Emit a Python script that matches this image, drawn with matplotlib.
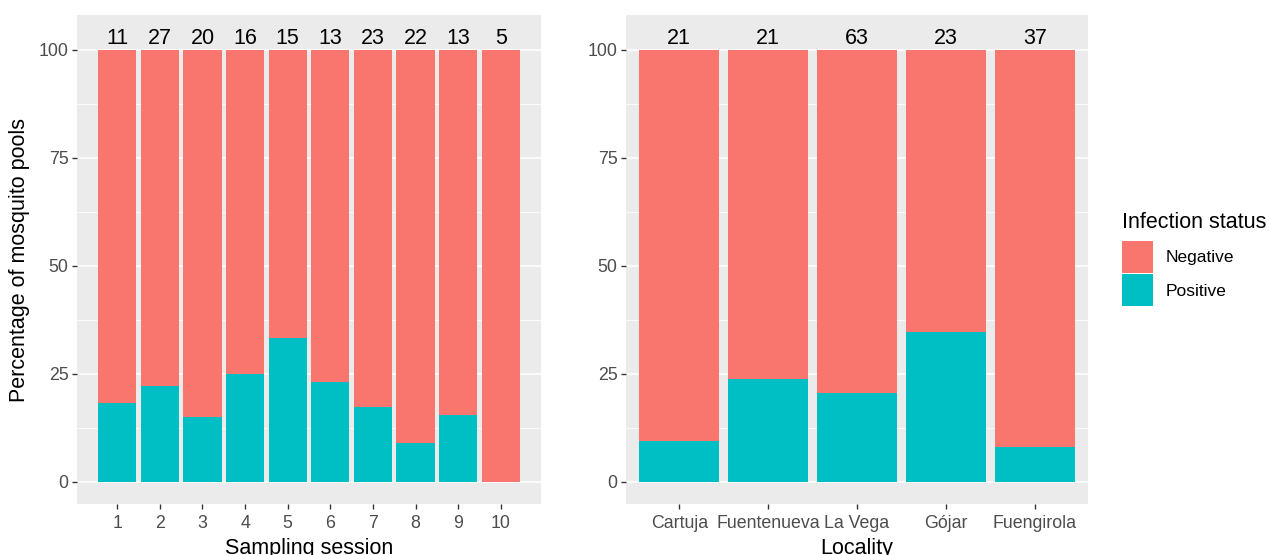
import matplotlib
matplotlib.use("Agg")
import matplotlib.pyplot as plt
from matplotlib.patches import Patch
import numpy as np

plt.rcParams['font.family'] = ['Liberation Sans', 'DejaVu Sans']

# Data
sessions = [1, 2, 3, 4, 5, 6, 7, 8, 9, 10]
session_positive = [18.2, 22.2, 15.0, 25.0, 33.3, 23.1, 17.4, 9.1, 15.4, 0.0]
session_n = [11, 27, 20, 16, 15, 13, 23, 22, 13, 5]

localities = ["Cartuja", "Fuentenueva", "La Vega", "Gójar", "Fuengirola"]
locality_positive = [9.5, 23.8, 20.6, 34.8, 8.1]
locality_n = [21, 21, 63, 23, 37]

status_labels = ["Negative", "Positive"]
col_neg = "#F8766D"
col_pos = "#00BFC4"

W, H = 1269, 555
fig = plt.figure(figsize=(W / 100, H / 100), dpi=100)

def px_axes(x0, y0, x1, y1):
    return fig.add_axes([x0 / W, 1 - y1 / H, (x1 - x0) / W, (y1 - y0) / H])

def style(ax):
    ax.set_facecolor("#EBEBEB")
    for s in ax.spines.values():
        s.set_visible(False)
    ax.set_ylim(-5.1, 108.1)
    ax.set_yticks([0, 25, 50, 75, 100])
    ax.set_yticks([12.5, 37.5, 62.5, 87.5], minor=True)
    ax.grid(axis='y', which='major', color='white', lw=1.1, zorder=0)
    ax.grid(axis='y', which='minor', color='white', lw=0.55, zorder=0)
    ax.set_axisbelow(True)
    ax.tick_params(axis='both', which='major', length=3.5, width=1.0, color='#333333',
                   labelcolor='#4D4D4D', labelsize=12.8, pad=2.5)
    ax.tick_params(axis='x', which='major', pad=4.5)
    ax.tick_params(axis='both', which='minor', length=0)
    ax.tick_params(axis='x', which='minor', bottom=False)

# Left panel
ax1 = px_axes(77, 15, 541, 504)
style(ax1)
pos = np.array(session_positive)
ax1.bar(sessions, pos, width=0.9, color=col_pos, zorder=2)
ax1.bar(sessions, 100 - pos, bottom=pos, width=0.9, color=col_neg, zorder=2)
for x, n in zip(sessions, session_n):
    ax1.annotate(str(n), (x, 100), xytext=(0, 1.0), textcoords='offset points',
                 ha='center', va='bottom', fontsize=15.5, color='black')
ax1.set_xlim(0.055, 10.945)
ax1.set_xticks(sessions)
ax1.set_xticklabels([str(s) for s in sessions])
ax1.set_xlabel("Sampling session", fontsize=15.5, labelpad=4)
ax1.set_ylabel("Percentage of mosquito pools", fontsize=15.5, labelpad=6)

# Right panel
ax2 = px_axes(626, 15, 1088, 504)
style(ax2)
xl = np.arange(len(localities))
lp = np.array(locality_positive)
ax2.bar(xl, lp, width=0.9, color=col_pos, zorder=2)
ax2.bar(xl, 100 - lp, bottom=lp, width=0.9, color=col_neg, zorder=2)
for x, n in zip(xl, locality_n):
    ax2.annotate(str(n), (x, 100), xytext=(0, 1.0), textcoords='offset points',
                 ha='center', va='bottom', fontsize=15.5, color='black')
ax2.set_xlim(-0.6, len(localities) - 0.4)
ax2.set_xticks(xl)
ax2.set_xticklabels(localities)
ax2.set_xlabel("Locality", fontsize=15.5, labelpad=4)

# Legend
handles = [Patch(facecolor=col_neg, edgecolor='none'), Patch(facecolor=col_pos, edgecolor='none')]
leg = fig.legend(handles, status_labels, title="Infection status",
                 loc='upper left', bbox_to_anchor=(1106 / W, 1 - 196 / H),
                 frameon=False, fontsize=12.5, title_fontsize=15.5,
                 handlelength=1.8, handleheight=2.45, handletextpad=0.75,
                 labelspacing=0.08, alignment='left', borderpad=0.4)
leg._legend_box.sep = 6

fig.savefig("out.png", dpi=100)
